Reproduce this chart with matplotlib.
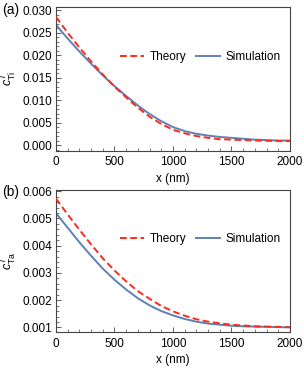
import numpy as np
import matplotlib.pyplot as plt
from matplotlib.ticker import MultipleLocator

plt.rcParams['font.family'] = ['Liberation Sans', 'DejaVu Sans']
plt.rcParams['mathtext.fontset'] = 'custom'
plt.rcParams['mathtext.rm'] = 'Liberation Sans'
plt.rcParams['mathtext.it'] = 'Liberation Sans:italic'

# position along x (nm)
x = np.arange(0, 2001, 100)

# (a) Ti
ti_theory = [0.0285, 0.0250, 0.0217, 0.0186, 0.0157, 0.0130, 0.0106, 0.0083,
             0.0063, 0.0047, 0.0034, 0.0026, 0.0020, 0.0016, 0.0013, 0.0012,
             0.0011, 0.0010, 0.00095, 0.0009, 0.0009]
ti_sim = [0.0267, 0.0237, 0.0208, 0.0181, 0.0155, 0.0131, 0.0109, 0.0088,
          0.0069, 0.0053, 0.0040, 0.0031, 0.0025, 0.0021, 0.0018, 0.0016,
          0.0014, 0.0012, 0.0011, 0.0010, 0.0010]

# (b) Ta
ta_theory = [0.00573, 0.00515, 0.00459, 0.00405, 0.00354, 0.00309, 0.00269,
             0.00233, 0.00205, 0.00179, 0.00159, 0.00143, 0.00130, 0.00121,
             0.00115, 0.00110, 0.00107, 0.00104, 0.00103, 0.00102, 0.00101]
ta_sim = [0.00520, 0.00466, 0.00413, 0.00363, 0.00316, 0.00275, 0.00239,
          0.00207, 0.00181, 0.00160, 0.00144, 0.00131, 0.00121, 0.00114,
          0.00110, 0.00106, 0.00104, 0.00103, 0.00102, 0.00101, 0.00100]

red = '#FF2A1A'
blue = '#5E81B5'
frame = '#444444'

fig = plt.figure(figsize=(3.04, 3.68), dpi=100)
ax1 = fig.add_axes([0.184, 0.590, 0.770, 0.391])
ax2 = fig.add_axes([0.184, 0.097, 0.770, 0.387])

panels = [
    (ax1, ti_theory, ti_sim, (-0.0013, 0.0307), 0.005, 0.001,
     r'$c^{\,l}_{\mathrm{Ti}}$', '(a)', 1 - 10 / 368),
    (ax2, ta_theory, ta_sim, (0.00082, 0.00605), 0.001, 0.0002,
     r'$c^{\,l}_{\mathrm{Ta}}$', '(b)', 1 - 192 / 368),
]

for ax, th, sim, ylim, major, minor, ylab, tag, ty in panels:
    ax.plot(x, th, color=red, ls=(0, (3.5, 1.8)), lw=1.4, label='Theory', zorder=3)
    ax.plot(x, sim, color=blue, lw=1.4, label='Simulation', zorder=2)
    ax.set_xlim(0, 2000)
    ax.set_ylim(*ylim)
    ax.xaxis.set_major_locator(MultipleLocator(500))
    ax.xaxis.set_minor_locator(MultipleLocator(100))
    ax.yaxis.set_major_locator(MultipleLocator(major))
    ax.yaxis.set_minor_locator(MultipleLocator(minor))
    ax.yaxis.set_major_formatter(plt.FormatStrFormatter('%.3f'))
    ax.tick_params(which='both', direction='in', top=False, right=False,
                   labelsize=8.5, color=frame)
    ax.tick_params(axis='x', pad=4)
    ax.tick_params(axis='y', pad=3)
    ax.tick_params(which='major', length=3.5, width=0.6)
    ax.tick_params(which='minor', length=2, width=0.5)
    for s in ax.spines.values():
        s.set_color(frame)
        s.set_linewidth(0.8)
    ax.set_xlabel('x (nm)', fontsize=8.5, labelpad=3)
    ax.set_ylabel(ylab, fontsize=9, labelpad=2)
    fig.text(2 / 304, ty, tag, fontsize=10, ha='left', va='center')
    ax.legend(loc='center right', bbox_to_anchor=(1.0, 0.655), ncol=2,
              frameon=False, fontsize=8.5, handlelength=2.0,
              columnspacing=0.8, handletextpad=0.5, borderaxespad=0.4)

fig.savefig('out.png', dpi=100)
